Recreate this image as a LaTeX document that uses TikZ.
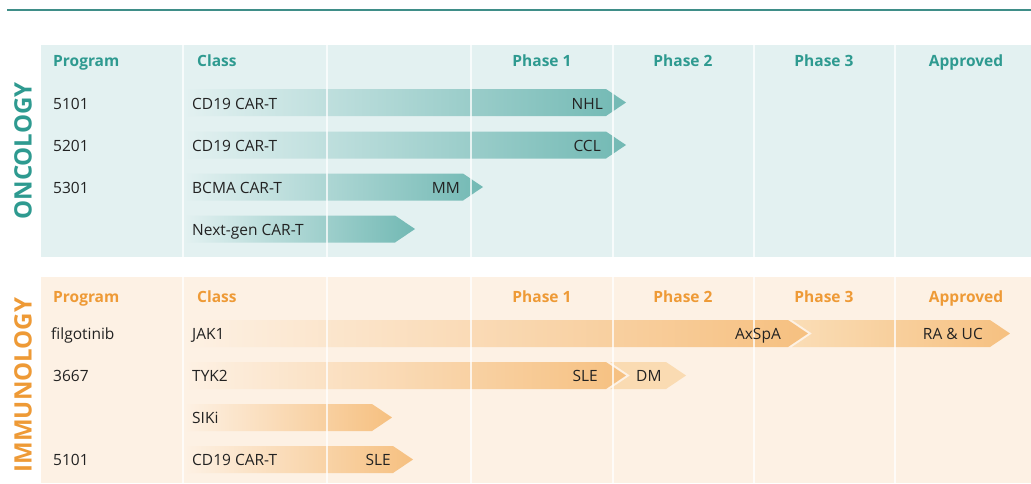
\documentclass[tikz,border=0pt]{standalone}
\usepackage{fontspec}
\setmainfont{Open Sans}
\definecolor{onctxt}{HTML}{2E9A90}
\definecolor{oncbg}{HTML}{E3F1F1}
\definecolor{oncbar}{HTML}{72B9B4}
\definecolor{oncline}{HTML}{3F8E88}
\definecolor{immtxt}{HTML}{EE9A36}
\definecolor{immbg}{HTML}{FDF1E4}
\definecolor{immbar}{HTML}{F6C080}
\definecolor{immlight}{HTML}{FADDB6}
\definecolor{bodytxt}{HTML}{222222}
\tikzset{
  body/.style={font=\fontsize{15.5}{18}\selectfont, text=bodytxt, inner sep=0pt},
  onchead/.style={font=\fontsize{15.5}{18}\selectfont\bfseries, text=onctxt, inner sep=0pt},
  immhead/.style={font=\fontsize{15.5}{18}\selectfont\bfseries, text=immtxt, inner sep=0pt},
  sidelabel/.style={font=\fontsize{24}{28}\selectfont\bfseries, rotate=90, inner sep=0pt},
  gapline/.style={white, line width=2.5pt, opacity=0.75},
  oncshade/.style={left color=oncbg, right color=oncbar},
  immshade/.style={left color=immbg, right color=immbar},
}
\begin{document}
\begin{tikzpicture}[x=1pt,y=-1pt]
\useasboundingbox (0,0) rectangle (1031,483);
\fill[white] (0,0) rectangle (1031,483);
% top rule
\coordinate (tl) at (7,10);
\coordinate (tr) at (1031,10);
\draw[oncline, line width=1.5pt] (tl) -- (tr);

% panels
\fill[oncbg] (41,45) rectangle (1031,257);
\fill[immbg] (41,277) rectangle (1031,483);

% ---------- oncology bars ----------
\shade[oncshade] (184,89) -- (606,89) -- (626,102.5) -- (606,116) -- (184,116) -- cycle;
\shade[oncshade] (184,131.5) -- (606,131.5) -- (626,145) -- (606,158.5) -- (184,158.5) -- cycle;
\shade[oncshade] (184,173.5) -- (463,173.5) -- (483,187) -- (463,200.5) -- (184,200.5) -- cycle;
\shade[oncshade] (184,215.5) -- (395,215.5) -- (415,229) -- (395,242.5) -- (184,242.5) -- cycle;

% ---------- immunology bars ----------
\shade[immshade] (184,320) -- (788,320) -- (808,333.5) -- (788,347) -- (184,347) -- cycle;
\shade[left color=immlight, right color=immbar] (792,320) -- (990,320) -- (1010,333.5) -- (990,347) -- (792,347) -- (812,333.5) -- cycle;
\shade[immshade] (184,362) -- (606,362) -- (626,375.5) -- (606,389) -- (184,389) -- cycle;
\fill[immlight!92!immbar] (610,362) -- (666,362) -- (686,375.5) -- (666,389) -- (610,389) -- (630,375.5) -- cycle;
\shade[immshade] (184,404) -- (372,404) -- (392,417.5) -- (372,431) -- (184,431) -- cycle;
\shade[immshade] (184,446) -- (393,446) -- (413,459.5) -- (393,473) -- (184,473) -- cycle;

% column gaps
\foreach \gx in {183,327,471,613,754,895} {
  \draw[gapline] (\gx,45) -- (\gx,257);
  \draw[gapline] (\gx,277) -- (\gx,483);
}

% side labels
\node[sidelabel, text=onctxt] (onc) at (23,151) {ONCOLOGY};
\node[sidelabel, text=immtxt] (imm) at (23,385) {IMMUNOLOGY};

% oncology headers
\node[onchead, anchor=base west] (oh1) at (53,66.5) {Program};
\node[onchead, anchor=base west] (oh2) at (197,66.5) {Class};
\node[onchead, anchor=base] (oh3) at (542,66.5) {Phase 1};
\node[onchead, anchor=base] (oh4) at (683,66.5) {Phase 2};
\node[onchead, anchor=base] (oh5) at (824,66.5) {Phase 3};
\node[onchead, anchor=base] (oh6) at (966,66.5) {Approved};

% oncology rows
\node[body, anchor=base west] (op1) at (53,109.5) {5101};
\node[body, anchor=base west] (op2) at (53,151.5) {5201};
\node[body, anchor=base west] (op3) at (53,193.5) {5301};
\node[body, anchor=base west] (oc1) at (192,109.5) {CD19 CAR-T};
\node[body, anchor=base west] (oc2) at (192,151.5) {CD19 CAR-T};
\node[body, anchor=base west] (oc3) at (192,193.5) {BCMA CAR-T};
\node[body, anchor=base west] (oc4) at (192,235.5) {Next-gen CAR-T};
\node[body, anchor=base east] (oi1) at (603,109.5) {NHL};
\node[body, anchor=base east] (oi2) at (601,151.5) {CCL};
\node[body, anchor=base east] (oi3) at (460,193.5) {MM};

% immunology headers
\node[immhead, anchor=base west] (ih1) at (53,302.5) {Program};
\node[immhead, anchor=base west] (ih2) at (197,302.5) {Class};
\node[immhead, anchor=base] (ih3) at (542,302.5) {Phase 1};
\node[immhead, anchor=base] (ih4) at (683,302.5) {Phase 2};
\node[immhead, anchor=base] (ih5) at (824,302.5) {Phase 3};
\node[immhead, anchor=base] (ih6) at (966,302.5) {Approved};

% immunology rows
\node[body, anchor=base west] (ip1) at (51,339.5) {filgotinib};
\node[body, anchor=base west] (ip2) at (53,381.5) {3667};
\node[body, anchor=base west] (ip4) at (53,465.5) {5101};
\node[body, anchor=base west] (ic1) at (192,339.5) {JAK1};
\node[body, anchor=base west] (ic2) at (192,381.5) {TYK2};
\node[body, anchor=base west] (ic3) at (192,423.5) {SIKi};
\node[body, anchor=base west] (ic4) at (192,465.5) {CD19 CAR-T};
\node[body, anchor=base east] (ii1) at (781,339.5) {AxSpA};
\node[body, anchor=base east] (ii2) at (983,339.5) {RA \& UC};
\node[body, anchor=base east] (ii3) at (598,381.5) {SLE};
\node[body, anchor=base west] (ii4) at (636,381.5) {DM};
\node[body, anchor=base east] (ii5) at (391,465.5) {SLE};
\end{tikzpicture}
\end{document}
